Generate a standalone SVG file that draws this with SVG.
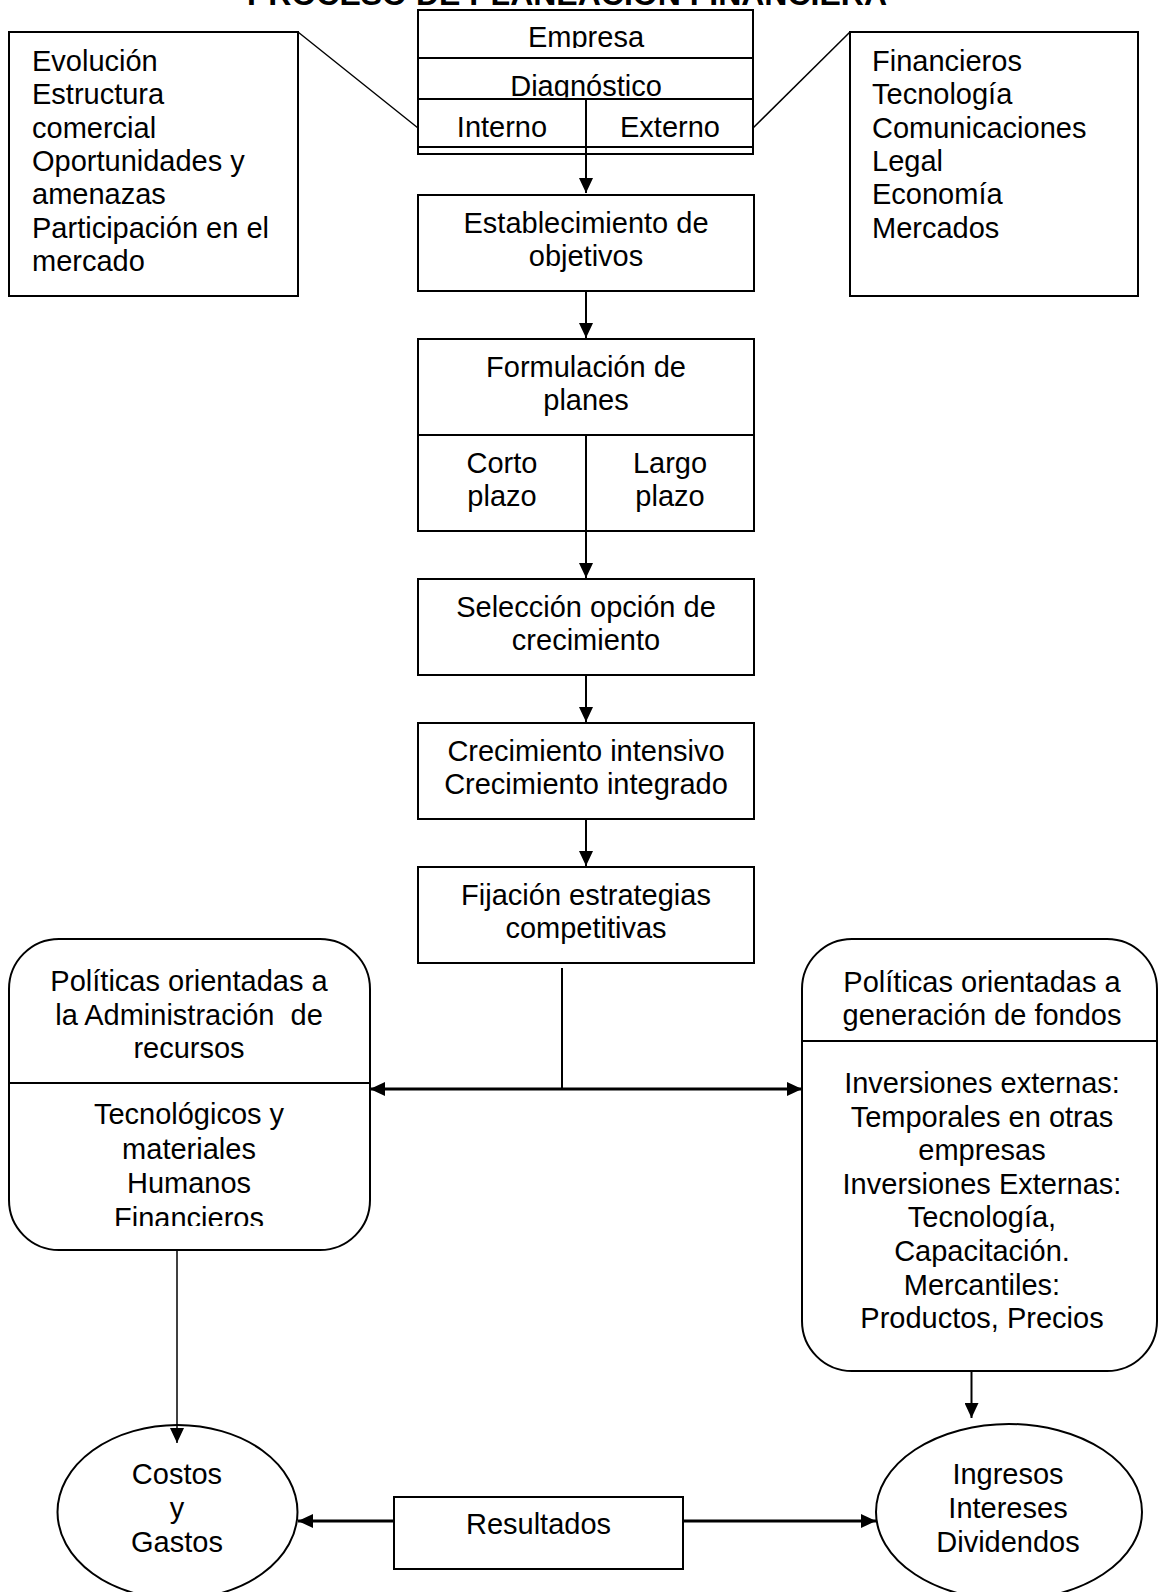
<svg xmlns="http://www.w3.org/2000/svg" width="1158" height="1592" viewBox="0 0 1158 1592">
<style>
text{font-family:"Liberation Sans",Arial,sans-serif;font-size:29px;fill:#000}
.c{text-anchor:middle}
.title{font-size:32px;font-weight:bold}
.box{fill:#fff;stroke:#000;stroke-width:2}
.ln{stroke:#000;stroke-width:2;fill:none}
.thin{stroke:#000;stroke-width:1.5;fill:none}
.thick{stroke:#000;stroke-width:3;fill:none}
</style>
<defs>
<marker id="ah" markerUnits="userSpaceOnUse" markerWidth="15" markerHeight="14" refX="15" refY="7" orient="auto">
<path d="M0,0 L15,7 L0,14 z" fill="#000"/>
</marker>
<clipPath id="clipEmp"><rect x="418" y="10" width="335" height="38"/></clipPath>
<clipPath id="clipDiag"><rect x="418" y="58" width="335" height="39.5"/></clipPath>
<clipPath id="clipAdm"><rect x="9" y="1083" width="361" height="143"/></clipPath>
</defs>

<text class="title c" x="567" y="5">PROCESO DE PLANEACIÓN FINANCIERA</text>

<g id="factores-internos">
<rect class="box" x="9" y="32" width="289" height="264"/>
<text x="32" y="71">Evolución</text>
<text x="32" y="104">Estructura</text>
<text x="32" y="137.5">comercial</text>
<text x="32" y="171">Oportunidades y</text>
<text x="32" y="204">amenazas</text>
<text x="32" y="237.5">Participación en el</text>
<text x="32" y="271">mercado</text>
</g>

<g id="factores-externos">
<rect class="box" x="850" y="32" width="288" height="264"/>
<text x="872" y="71">Financieros</text>
<text x="872" y="104">Tecnología</text>
<text x="872" y="137.5">Comunicaciones</text>
<text x="872" y="171">Legal</text>
<text x="872" y="204">Economía</text>
<text x="872" y="237.5">Mercados</text>
</g>

<g id="empresa">
<rect class="box" x="418" y="10" width="335" height="144"/>
<line class="ln" x1="418" y1="58" x2="753" y2="58"/>
<line class="ln" x1="418" y1="99" x2="753" y2="99"/>
<line class="ln" x1="418" y1="147" x2="753" y2="147"/>
<line class="ln" x1="586" y1="99" x2="586" y2="154"/>
<text class="c" x="586" y="47" clip-path="url(#clipEmp)">Empresa</text>
<text class="c" x="586" y="96" clip-path="url(#clipDiag)">Diagnóstico</text>
<text class="c" x="502" y="137">Interno</text>
<text class="c" x="670" y="137">Externo</text>
</g>

<g id="objetivos">
<rect class="box" x="418" y="195" width="336" height="96"/>
<text class="c" x="586" y="232.5">Establecimiento de</text>
<text class="c" x="586" y="265.5">objetivos</text>
</g>

<g id="planes">
<rect class="box" x="418" y="339" width="336" height="192"/>
<line class="ln" x1="418" y1="435" x2="754" y2="435"/>
<line class="ln" x1="586" y1="435" x2="586" y2="531"/>
<text class="c" x="586" y="376.5">Formulación de</text>
<text class="c" x="586" y="409.5">planes</text>
<text class="c" x="502" y="472.5">Corto</text>
<text class="c" x="502" y="505.5">plazo</text>
<text class="c" x="670" y="472.5">Largo</text>
<text class="c" x="670" y="505.5">plazo</text>
</g>

<g id="seleccion">
<rect class="box" x="418" y="579" width="336" height="96"/>
<text class="c" x="586" y="616.5">Selección opción de</text>
<text class="c" x="586" y="649.5">crecimiento</text>
</g>

<g id="crecimiento">
<rect class="box" x="418" y="723" width="336" height="96"/>
<text class="c" x="586" y="760.5">Crecimiento intensivo</text>
<text class="c" x="586" y="793.5">Crecimiento integrado</text>
</g>

<g id="estrategias">
<rect class="box" x="418" y="867" width="336" height="96"/>
<text class="c" x="586" y="904.5">Fijación estrategias</text>
<text class="c" x="586" y="937.5">competitivas</text>
</g>

<g id="politicas-recursos">
<rect class="box" x="9" y="939" width="361" height="311" rx="50" ry="50"/>
<line class="ln" x1="9" y1="1083" x2="370" y2="1083"/>
<text class="c" x="189" y="991">Políticas orientadas a</text>
<text class="c" x="189" y="1025" xml:space="preserve">la Administración  de</text>
<text class="c" x="189" y="1058">recursos</text>
<g clip-path="url(#clipAdm)">
<text class="c" x="189" y="1124">Tecnológicos y</text>
<text class="c" x="189" y="1159">materiales</text>
<text class="c" x="189" y="1193">Humanos</text>
<text class="c" x="189" y="1228">Financieros</text>
</g>
</g>

<g id="politicas-fondos">
<rect class="box" x="802" y="939" width="355" height="432" rx="50" ry="50"/>
<line class="ln" x1="802" y1="1041" x2="1157" y2="1041"/>
<text class="c" x="982" y="992">Políticas orientadas a</text>
<text class="c" x="982" y="1025">generación de fondos</text>
<text class="c" x="982" y="1093">Inversiones externas:</text>
<text class="c" x="982" y="1126.5">Temporales en otras</text>
<text class="c" x="982" y="1160">empresas</text>
<text class="c" x="982" y="1193.5">Inversiones Externas:</text>
<text class="c" x="982" y="1227">Tecnología,</text>
<text class="c" x="982" y="1261">Capacitación.</text>
<text class="c" x="982" y="1294.5">Mercantiles:</text>
<text class="c" x="982" y="1328">Productos, Precios</text>
</g>

<g id="costos">
<ellipse class="box" cx="177.5" cy="1512" rx="120" ry="87"/>
<text class="c" x="177" y="1484">Costos</text>
<text class="c" x="177" y="1518">y</text>
<text class="c" x="177" y="1552">Gastos</text>
</g>

<g id="resultados">
<rect class="box" x="394" y="1497" width="289" height="72"/>
<text class="c" x="538.5" y="1534">Resultados</text>
</g>

<g id="ingresos">
<ellipse class="box" cx="1009" cy="1512" rx="133" ry="88"/>
<text class="c" x="1008" y="1484">Ingresos</text>
<text class="c" x="1008" y="1518">Intereses</text>
<text class="c" x="1008" y="1552">Dividendos</text>
</g>

<g id="connectors">
<line class="thin" x1="298" y1="32" x2="418" y2="128"/>
<line class="thin" x1="850" y1="32" x2="753" y2="128"/>
<line class="ln" x1="586" y1="154" x2="586" y2="193" marker-end="url(#ah)"/>
<line class="ln" x1="586" y1="291" x2="586" y2="338" marker-end="url(#ah)"/>
<line class="ln" x1="586" y1="531" x2="586" y2="578" marker-end="url(#ah)"/>
<line class="ln" x1="586" y1="675" x2="586" y2="722" marker-end="url(#ah)"/>
<line class="ln" x1="586" y1="819" x2="586" y2="866" marker-end="url(#ah)"/>
<line class="ln" x1="562" y1="968" x2="562" y2="1089"/>
<line class="thick" x1="562" y1="1089" x2="370" y2="1089" marker-end="url(#ah)"/>
<line class="thick" x1="562" y1="1089" x2="802" y2="1089" marker-end="url(#ah)"/>
<line class="thin" x1="177" y1="1250" x2="177" y2="1443" marker-end="url(#ah)"/>
<line class="ln" x1="971.5" y1="1371" x2="971.5" y2="1418" marker-end="url(#ah)"/>
<line class="thick" x1="394" y1="1521" x2="298" y2="1521" marker-end="url(#ah)"/>
<line class="thick" x1="683" y1="1521" x2="876" y2="1521" marker-end="url(#ah)"/>
</g>
</svg>
